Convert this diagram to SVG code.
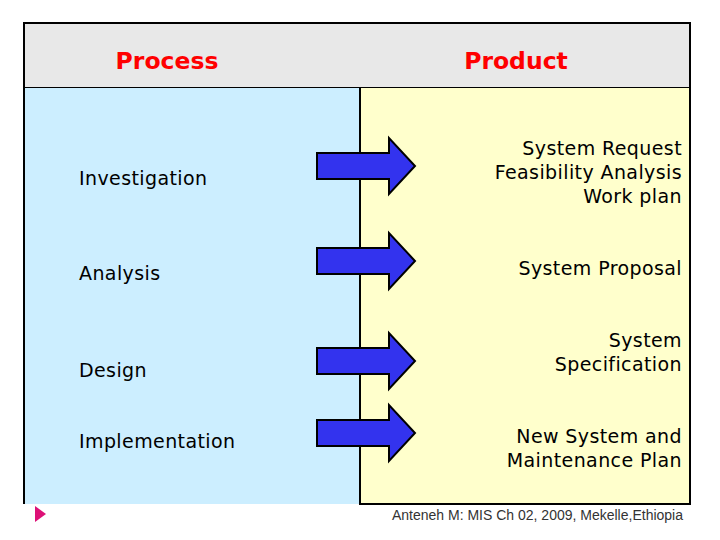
<svg xmlns="http://www.w3.org/2000/svg" width="720" height="540" viewBox="0 0 720 540">
<style>
.t{font-family:"DejaVu Sans",Verdana,sans-serif;font-size:19px;letter-spacing:0.4px;fill:#000}
.r{text-anchor:end}
.h{font-family:"DejaVu Sans",Verdana,sans-serif;font-size:23.5px;font-weight:bold;fill:#ff0000;text-anchor:middle}
.a{fill:#3333ee;stroke:#000;stroke-width:2}
</style>
<defs><path id="arr" class="a" d="M317,-13 H389 V-28 L415,0 L389,28 V13 H317 Z"/></defs>
<rect width="720" height="540" fill="#fff"/>
<rect x="24" y="23" width="666" height="65" fill="#e8e8e8" stroke="#000" stroke-width="2"/>
<rect id="left" x="24" y="88" width="336" height="416" fill="#cceeff"/>
<rect id="right" x="360" y="88" width="330" height="416" fill="#ffffcc"/>
<path d="M24,88 V504 M360,88 V504 H690 V88" fill="none" stroke="#000" stroke-width="2"/>
<text class="h" x="167" y="69">Process</text>
<text class="h" x="516" y="69">Product</text>
<g id="connectors">
<use href="#arr" y="166"/>
<use href="#arr" y="261"/>
<use href="#arr" y="361"/>
<use href="#arr" y="433"/>
</g>
<g id="n1"><text class="t" x="79" y="185">Investigation</text></g>
<g id="n2"><text class="t" x="79" y="280">Analysis</text></g>
<g id="n3"><text class="t" x="79" y="377">Design</text></g>
<g id="n4"><text class="t" x="79" y="448">Implementation</text></g>
<g id="p1"><text class="t r" x="682" y="155">System Request</text><text class="t r" x="682" y="179">Feasibility Analysis</text><text class="t r" x="682" y="203">Work plan</text></g>
<g id="p2"><text class="t r" x="682" y="275">System Proposal</text></g>
<g id="p3"><text class="t r" x="682" y="347">System</text><text class="t r" x="682" y="371">Specification</text></g>
<g id="p4"><text class="t r" x="682" y="443">New System and</text><text class="t r" x="682" y="467">Maintenance Plan</text></g>
<polygon points="35,506 46,514 35,522" fill="#dd1177"/>
<text x="683" y="520" text-anchor="end" font-family="Liberation Sans,Arial,sans-serif" font-size="14" fill="#333">Anteneh M: MIS Ch 02, 2009,  Mekelle,Ethiopia</text>
</svg>
